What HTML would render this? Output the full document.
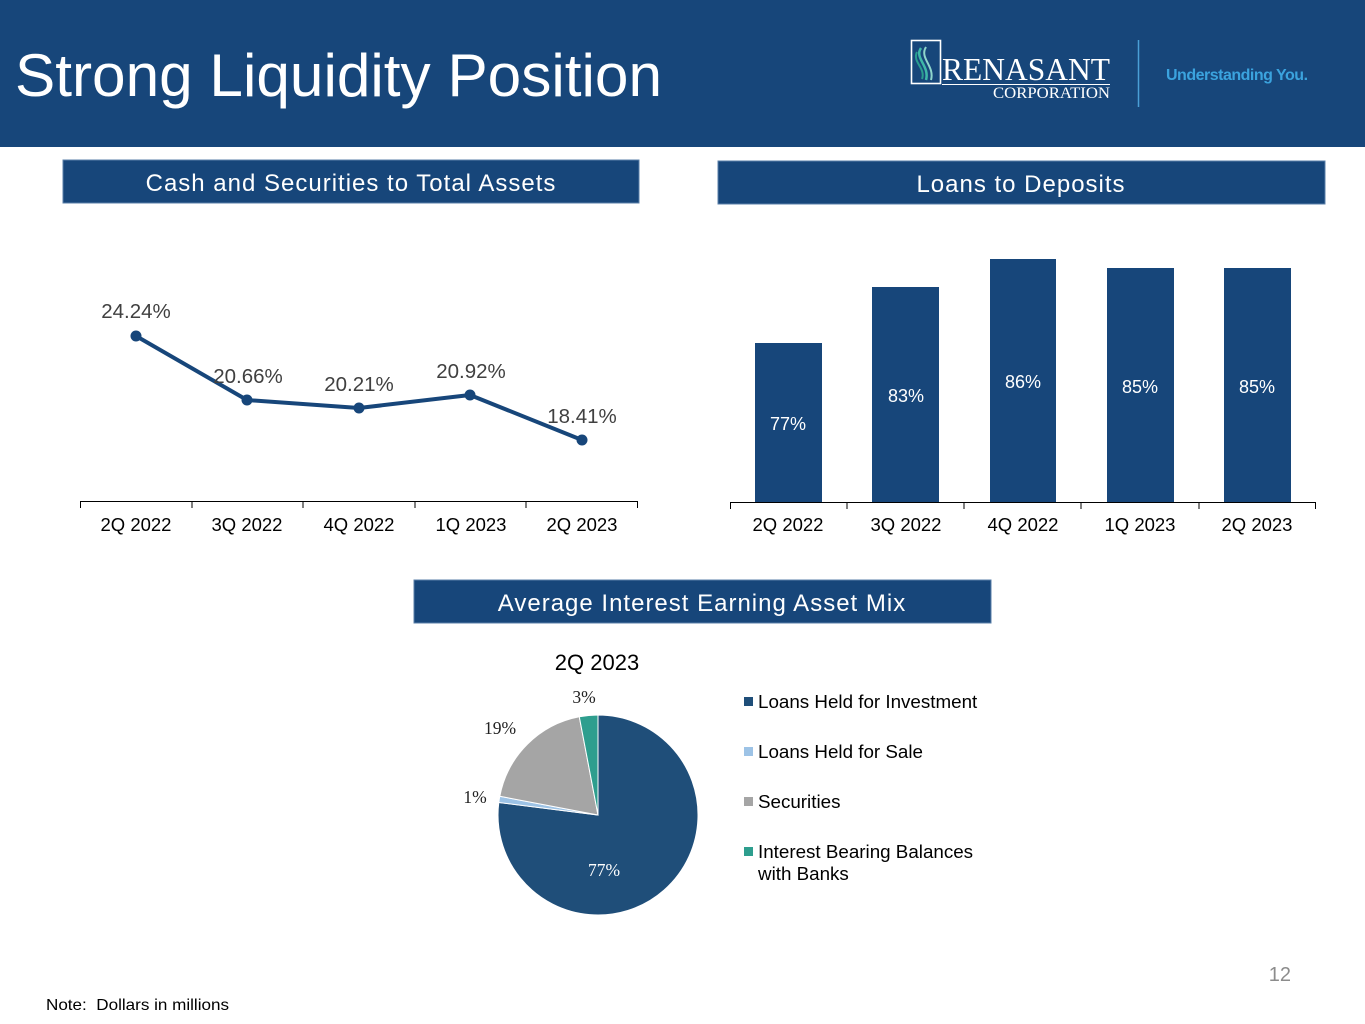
<!DOCTYPE html>
<html>
<head>
<meta charset="utf-8">
<style>
  html,body{margin:0;padding:0;background:#fff;}
  svg{display:block;}
  text{font-family:"Liberation Sans",Arial,sans-serif;}
  .serif{font-family:"Liberation Serif","Times New Roman",serif;}
</style>
</head>
<body>
<svg width="1365" height="1024" viewBox="0 0 1365 1024" xmlns="http://www.w3.org/2000/svg">
  <!-- Header -->
  <rect x="0" y="0" width="1365" height="147" fill="#17467a"/>
  <text x="15" y="96" font-size="60" fill="#ffffff" textLength="647" lengthAdjust="spacingAndGlyphs">Strong Liquidity Position</text>

  <!-- Logo -->
  <rect x="911.5" y="40.5" width="29" height="43" fill="none" stroke="#ffffff" stroke-width="1.6"/>
  <path d="M921 48 C914 58, 930 66, 926 80" fill="none" stroke="#3fb8a8" stroke-width="2.5"/>
  <path d="M926 47 C919 58, 935 66, 931 80" fill="none" stroke="#8fd6cc" stroke-width="2"/>
  <path d="M917 52 C912 62, 926 68, 922 79" fill="none" stroke="#2a9d8f" stroke-width="2"/>
  <text class="serif" x="942" y="80" font-size="32" fill="#ffffff" textLength="168" lengthAdjust="spacingAndGlyphs">RENASANT</text>
  <line x1="942" y1="84.5" x2="1110" y2="84.5" stroke="#ffffff" stroke-width="1"/>
  <text class="serif" x="993" y="98" font-size="16" fill="#ffffff" textLength="117" lengthAdjust="spacingAndGlyphs">CORPORATION</text>
  <line x1="1138.5" y1="40" x2="1138.5" y2="107" stroke="#4a9fd6" stroke-width="1.5"/>
  <text x="1166" y="80" font-size="16" font-weight="bold" fill="#3ba3de" letter-spacing="-0.5">Understanding You.</text>

  <!-- Title boxes -->
  <rect x="63" y="160" width="576" height="43" fill="#17467a" stroke="#5a7fa8" stroke-width="1"/>
  <text x="351" y="191" font-size="24" fill="#ffffff" text-anchor="middle" letter-spacing="1">Cash and Securities to Total Assets</text>

  <rect x="718" y="161" width="607" height="43" fill="#17467a" stroke="#5a7fa8" stroke-width="1"/>
  <text x="1021" y="192" font-size="24" fill="#ffffff" text-anchor="middle" letter-spacing="1">Loans to Deposits</text>

  <rect x="414" y="580" width="577" height="43" fill="#17467a" stroke="#5a7fa8" stroke-width="1"/>
  <text x="702" y="611" font-size="24" fill="#ffffff" text-anchor="middle" letter-spacing="1">Average Interest Earning Asset Mix</text>

  <!-- Line chart -->
  <g stroke="#000" stroke-width="1">
    <line x1="80" y1="501.5" x2="638" y2="501.5"/>
    <line x1="80.5" y1="501" x2="80.5" y2="508"/>
    <line x1="192" y1="501" x2="192" y2="508"/>
    <line x1="303" y1="501" x2="303" y2="508"/>
    <line x1="415" y1="501" x2="415" y2="508"/>
    <line x1="526" y1="501" x2="526" y2="508"/>
    <line x1="637.5" y1="501" x2="637.5" y2="508"/>
  </g>
  <polyline points="136,336 247,400 359,408 470,395 582,440" fill="none" stroke="#17467a" stroke-width="4" stroke-linejoin="round"/>
  <g fill="#17467a">
    <circle cx="136" cy="336" r="5.5"/>
    <circle cx="247" cy="400" r="5.5"/>
    <circle cx="359" cy="408" r="5.5"/>
    <circle cx="470" cy="395" r="5.5"/>
    <circle cx="582" cy="440" r="5.5"/>
  </g>
  <g font-size="20.5" fill="#404040" text-anchor="middle">
    <text x="136" y="318">24.24%</text>
    <text x="248" y="383">20.66%</text>
    <text x="359" y="391">20.21%</text>
    <text x="471" y="378">20.92%</text>
    <text x="582" y="423">18.41%</text>
  </g>
  <g font-size="18.5" fill="#000" text-anchor="middle">
    <text x="136" y="531">2Q 2022</text>
    <text x="247" y="531">3Q 2022</text>
    <text x="359" y="531">4Q 2022</text>
    <text x="471" y="531">1Q 2023</text>
    <text x="582" y="531">2Q 2023</text>
  </g>

  <!-- Bar chart -->
  <g fill="#17467a">
    <rect x="755" y="343" width="67" height="159"/>
    <rect x="872" y="287" width="67" height="215"/>
    <rect x="990" y="259" width="66" height="243"/>
    <rect x="1107" y="268" width="67" height="234"/>
    <rect x="1224" y="268" width="67" height="234"/>
  </g>
  <g stroke="#000" stroke-width="1">
    <line x1="730" y1="502.5" x2="1316" y2="502.5"/>
    <line x1="730.5" y1="502" x2="730.5" y2="509"/>
    <line x1="847" y1="502" x2="847" y2="509"/>
    <line x1="964" y1="502" x2="964" y2="509"/>
    <line x1="1081" y1="502" x2="1081" y2="509"/>
    <line x1="1199" y1="502" x2="1199" y2="509"/>
    <line x1="1315.5" y1="502" x2="1315.5" y2="509"/>
  </g>
  <g font-size="18" fill="#ffffff" text-anchor="middle">
    <text x="788" y="430">77%</text>
    <text x="906" y="402">83%</text>
    <text x="1023" y="388">86%</text>
    <text x="1140" y="393">85%</text>
    <text x="1257" y="393">85%</text>
  </g>
  <g font-size="18.5" fill="#000" text-anchor="middle">
    <text x="788" y="531">2Q 2022</text>
    <text x="906" y="531">3Q 2022</text>
    <text x="1023" y="531">4Q 2022</text>
    <text x="1140" y="531">1Q 2023</text>
    <text x="1257" y="531">2Q 2023</text>
  </g>

  <!-- Pie chart -->
  <text x="597" y="670" font-size="22" fill="#000" text-anchor="middle">2Q 2023</text>
  <g stroke="#ffffff" stroke-width="1">
    <path d="M598 815 L598 715 A100 100 0 1 1 498.8 802.5 Z" fill="#1f4e79"/>
    <path d="M598 815 L498.8 802.5 A100 100 0 0 1 499.8 796.3 Z" fill="#9dc3e6"/>
    <path d="M598 815 L499.8 796.3 A100 100 0 0 1 579.3 716.8 Z" fill="#a5a5a5"/>
    <path d="M598 815 L579.3 716.8 A100 100 0 0 1 598 715 Z" fill="#2e9e8e"/>
  </g>
  <g font-size="17.5" text-anchor="middle">
    <text class="serif" x="584" y="703" fill="#222">3%</text>
    <text class="serif" x="500" y="734" fill="#222">19%</text>
    <text class="serif" x="475" y="803" fill="#222">1%</text>
    <text class="serif" x="604" y="876" fill="#ffffff">77%</text>
  </g>

  <!-- Legend -->
  <rect x="744" y="697" width="9" height="9" fill="#1f4e79"/>
  <rect x="744" y="747" width="9" height="9" fill="#9dc3e6"/>
  <rect x="744" y="797" width="9" height="9" fill="#a5a5a5"/>
  <rect x="744" y="847" width="9" height="9" fill="#2e9e8e"/>
  <g font-size="18.8" fill="#000">
    <text x="758" y="708">Loans Held for Investment</text>
    <text x="758" y="758">Loans Held for Sale</text>
    <text x="758" y="808">Securities</text>
    <text x="758" y="858">Interest Bearing Balances</text>
    <text x="758" y="880">with Banks</text>
  </g>

  <!-- Footer -->
  <text x="1291" y="981" font-size="20" fill="#8c8c8c" text-anchor="end">12</text>
  <text x="46" y="1010" font-size="16" fill="#000" textLength="183" lengthAdjust="spacingAndGlyphs">Note:&#160; Dollars in millions</text>
</svg>
</body>
</html>
